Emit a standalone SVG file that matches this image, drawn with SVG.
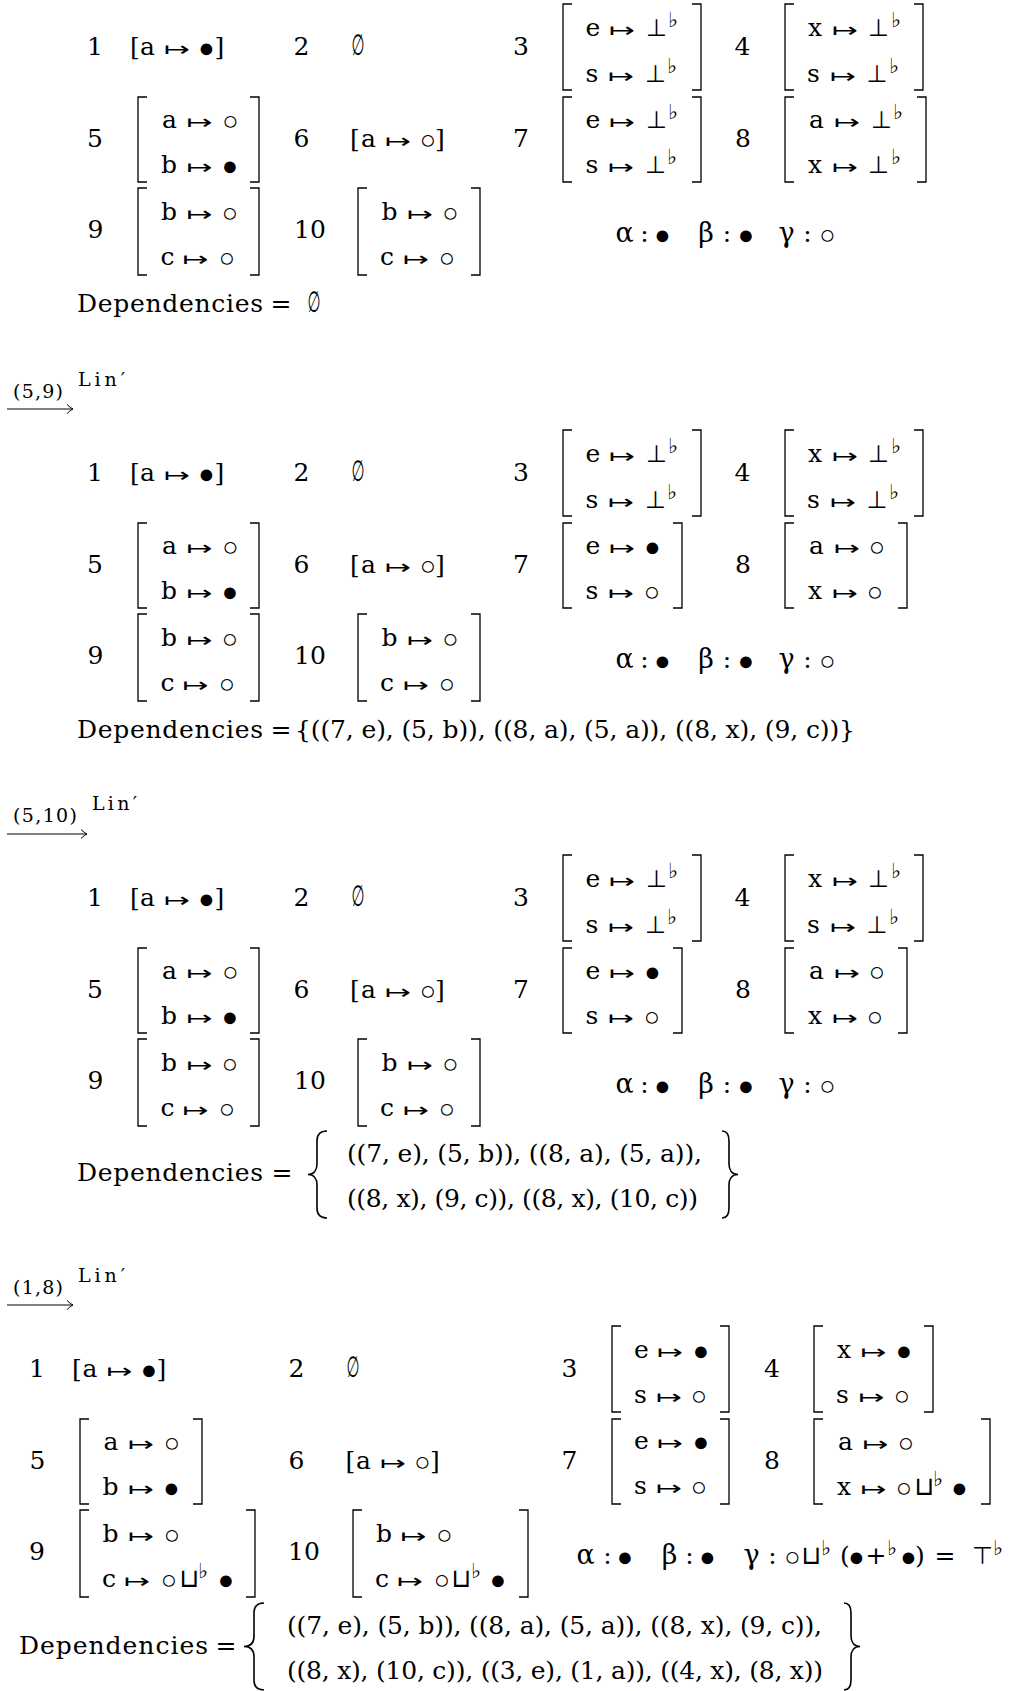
<svg xmlns="http://www.w3.org/2000/svg" width="1010" height="1691" viewBox="0 0 1010 1691">
<style>
text{fill:#000}
.t{font-family:"DejaVu Serif",serif;font-size:25px}
.c{text-anchor:middle}
.g{font-size:27px}
.mt{font-family:"DejaVu Sans",sans-serif;font-size:20px;text-anchor:middle;transform:translateY(-1.5px)}
.d{font-family:"Liberation Serif","DejaVu Sans",serif;font-size:27px;text-anchor:middle;transform:translateY(1.5px)}
.op{font-family:"DejaVu Sans",sans-serif;font-size:24px;text-anchor:middle}
.cup{font-family:"DejaVu Sans",sans-serif;font-size:26px;text-anchor:middle}
.fl{font-family:"DejaVu Sans",sans-serif;font-size:21px}
.es{font-family:"DejaVu Sans",sans-serif;font-size:29px;text-anchor:middle}
.lb{font-family:"DejaVu Serif",serif;font-size:19px}
.br{fill:none;stroke:#000;stroke-width:1.3}
.bc{fill:none;stroke:#000;stroke-width:1.6}
.ar{fill:none;stroke:#000;stroke-width:1}
</style>
<rect width="1010" height="1691" fill="#fff"/>

<!-- ===== State 1 ===== -->
<g id="state1">
 <g id="s1-c1"><text class="t c" x="95" y="55">1</text><text class="t c" x="135" y="55">[</text><text class="t c" x="147.5" y="55">a</text><text class="mt" x="177" y="57" textLength="26" lengthAdjust="spacingAndGlyphs">↦</text><text class="d" x="206.5" y="55">●</text><text class="t c" x="219.5" y="55">]</text></g>
 <g id="s1-c2"><text class="t c" x="301.5" y="55">2</text><text class="es" x="358" y="55" textLength="13" lengthAdjust="spacingAndGlyphs">∅</text></g>
 <g id="s1-c3"><text class="t c" x="521" y="55">3</text><path class="br" d="M572,4H563V90H572M692,4H701V90H692"/>
  <text class="t c" x="593" y="36">e</text><text class="mt" x="622" y="38" textLength="26" lengthAdjust="spacingAndGlyphs">↦</text><text class="op" x="656.5" y="36">⊥</text><text class="fl" x="668" y="27">♭</text>
  <text class="t c" x="592" y="82">s</text><text class="mt" x="621" y="84" textLength="26" lengthAdjust="spacingAndGlyphs">↦</text><text class="op" x="655.5" y="82">⊥</text><text class="fl" x="667" y="73">♭</text></g>
 <g id="s1-c4"><text class="t c" x="742.5" y="55">4</text><path class="br" d="M794,4H785V90H794M914,4H923V90H914"/>
  <text class="t c" x="815" y="36">x</text><text class="mt" x="845" y="38" textLength="26" lengthAdjust="spacingAndGlyphs">↦</text><text class="op" x="878.5" y="36">⊥</text><text class="fl" x="891" y="27">♭</text>
  <text class="t c" x="813.5" y="82">s</text><text class="mt" x="843" y="84" textLength="26" lengthAdjust="spacingAndGlyphs">↦</text><text class="op" x="877" y="82">⊥</text><text class="fl" x="889" y="73">♭</text></g>
 <g id="s1-c5"><text class="t c" x="95" y="147">5</text><path class="br" d="M147,97H138V182H147M250,97H259V182H250"/>
  <text class="t c" x="169.5" y="128">a</text><text class="mt" x="199.5" y="130" textLength="26" lengthAdjust="spacingAndGlyphs">↦</text><text class="d" x="230.5" y="128">○</text>
  <text class="t c" x="169" y="173">b</text><text class="mt" x="199.5" y="175" textLength="26" lengthAdjust="spacingAndGlyphs">↦</text><text class="d" x="230" y="173">●</text></g>
 <g id="s1-c6"><text class="t c" x="301.5" y="147">6</text><text class="t c" x="355" y="147">[</text><text class="t c" x="368.5" y="147">a</text><text class="mt" x="398" y="149" textLength="26" lengthAdjust="spacingAndGlyphs">↦</text><text class="d" x="428" y="147">○</text><text class="t c" x="440" y="147">]</text></g>
 <g id="s1-c7"><text class="t c" x="521" y="147">7</text><path class="br" d="M572,97H563V182H572M692,97H701V182H692"/>
  <text class="t c" x="593" y="128">e</text><text class="mt" x="622" y="130" textLength="26" lengthAdjust="spacingAndGlyphs">↦</text><text class="op" x="656.5" y="128">⊥</text><text class="fl" x="668" y="119">♭</text>
  <text class="t c" x="592" y="173">s</text><text class="mt" x="621" y="175" textLength="26" lengthAdjust="spacingAndGlyphs">↦</text><text class="op" x="655.5" y="173">⊥</text><text class="fl" x="667" y="164">♭</text></g>
 <g id="s1-c8"><text class="t c" x="743" y="147">8</text><path class="br" d="M794,97H785V182H794M917,97H926V182H917"/>
  <text class="t c" x="816.5" y="128">a</text><text class="mt" x="847" y="130" textLength="26" lengthAdjust="spacingAndGlyphs">↦</text><text class="op" x="881.5" y="128">⊥</text><text class="fl" x="893" y="119">♭</text>
  <text class="t c" x="815" y="173">x</text><text class="mt" x="845" y="175" textLength="26" lengthAdjust="spacingAndGlyphs">↦</text><text class="op" x="878.5" y="173">⊥</text><text class="fl" x="891" y="164">♭</text></g>
 <g id="s1-c9"><text class="t c" x="95.5" y="238">9</text><path class="br" d="M147,188H138V275H147M250,188H259V275H250"/>
  <text class="t c" x="169" y="220">b</text><text class="mt" x="199.5" y="222" textLength="26" lengthAdjust="spacingAndGlyphs">↦</text><text class="d" x="230" y="220">○</text>
  <text class="t c" x="167.5" y="265">c</text><text class="mt" x="195.5" y="267" textLength="26" lengthAdjust="spacingAndGlyphs">↦</text><text class="d" x="227" y="265">○</text></g>
 <g id="s1-c10"><text class="t c" x="310" y="238">10</text><path class="br" d="M367,188H358V275H367M471,188H480V275H471"/>
  <text class="t c" x="389.5" y="220">b</text><text class="mt" x="420" y="222" textLength="26" lengthAdjust="spacingAndGlyphs">↦</text><text class="d" x="450.5" y="220">○</text>
  <text class="t c" x="387" y="265">c</text><text class="mt" x="416" y="267" textLength="26" lengthAdjust="spacingAndGlyphs">↦</text><text class="d" x="447" y="265">○</text></g>
 <g id="s1-vars"><text class="t c g" x="624.5" y="242">α</text><text class="t c" x="644.5" y="242">:</text><text class="d" x="662.5" y="242">●</text><text class="t c g" x="706" y="242">β</text><text class="t c" x="727" y="242">:</text><text class="d" x="746" y="242">●</text><text class="t c g" x="786.5" y="242">γ</text><text class="t c" x="807.5" y="242">:</text><text class="d" x="827.5" y="242">○</text></g>
 <g id="s1-deps"><text class="t" x="77" y="312" textLength="186" lengthAdjust="spacing">Dependencies</text><text class="t c" x="281" y="312">=</text><text class="es" x="314" y="312" textLength="13" lengthAdjust="spacingAndGlyphs">∅</text></g>
</g>

<!-- ===== State 2 ===== -->
<g id="state2" transform="translate(0,426)">
 <g id="s2-c1"><text class="t c" x="95" y="55">1</text><text class="t c" x="135" y="55">[</text><text class="t c" x="147.5" y="55">a</text><text class="mt" x="177" y="57" textLength="26" lengthAdjust="spacingAndGlyphs">↦</text><text class="d" x="206.5" y="55">●</text><text class="t c" x="219.5" y="55">]</text></g>
 <g id="s2-c2"><text class="t c" x="301.5" y="55">2</text><text class="es" x="358" y="55" textLength="13" lengthAdjust="spacingAndGlyphs">∅</text></g>
 <g id="s2-c3"><text class="t c" x="521" y="55">3</text><path class="br" d="M572,4H563V90H572M692,4H701V90H692"/>
  <text class="t c" x="593" y="36">e</text><text class="mt" x="622" y="38" textLength="26" lengthAdjust="spacingAndGlyphs">↦</text><text class="op" x="656.5" y="36">⊥</text><text class="fl" x="668" y="27">♭</text>
  <text class="t c" x="592" y="82">s</text><text class="mt" x="621" y="84" textLength="26" lengthAdjust="spacingAndGlyphs">↦</text><text class="op" x="655.5" y="82">⊥</text><text class="fl" x="667" y="73">♭</text></g>
 <g id="s2-c4"><text class="t c" x="742.5" y="55">4</text><path class="br" d="M794,4H785V90H794M914,4H923V90H914"/>
  <text class="t c" x="815" y="36">x</text><text class="mt" x="845" y="38" textLength="26" lengthAdjust="spacingAndGlyphs">↦</text><text class="op" x="878.5" y="36">⊥</text><text class="fl" x="891" y="27">♭</text>
  <text class="t c" x="813.5" y="82">s</text><text class="mt" x="843" y="84" textLength="26" lengthAdjust="spacingAndGlyphs">↦</text><text class="op" x="877" y="82">⊥</text><text class="fl" x="889" y="73">♭</text></g>
 <g id="s2-c5"><text class="t c" x="95" y="147">5</text><path class="br" d="M147,97H138V182H147M250,97H259V182H250"/>
  <text class="t c" x="169.5" y="128">a</text><text class="mt" x="199.5" y="130" textLength="26" lengthAdjust="spacingAndGlyphs">↦</text><text class="d" x="230.5" y="128">○</text>
  <text class="t c" x="169" y="173">b</text><text class="mt" x="199.5" y="175" textLength="26" lengthAdjust="spacingAndGlyphs">↦</text><text class="d" x="230" y="173">●</text></g>
 <g id="s2-c6"><text class="t c" x="301.5" y="147">6</text><text class="t c" x="355" y="147">[</text><text class="t c" x="368.5" y="147">a</text><text class="mt" x="398" y="149" textLength="26" lengthAdjust="spacingAndGlyphs">↦</text><text class="d" x="428" y="147">○</text><text class="t c" x="440" y="147">]</text></g>
 <g id="s2-c7"><text class="t c" x="521" y="147">7</text><path class="br" d="M572,97H563V182H572M673,97H682V182H673"/>
  <text class="t c" x="593" y="128">e</text><text class="mt" x="622" y="130" textLength="26" lengthAdjust="spacingAndGlyphs">↦</text><text class="d" x="652.5" y="128">●</text>
  <text class="t c" x="592" y="173">s</text><text class="mt" x="621" y="175" textLength="26" lengthAdjust="spacingAndGlyphs">↦</text><text class="d" x="652" y="173">○</text></g>
 <g id="s2-c8"><text class="t c" x="743" y="147">8</text><path class="br" d="M794,97H785V182H794M898,97H907V182H898"/>
  <text class="t c" x="816.5" y="128">a</text><text class="mt" x="847" y="130" textLength="26" lengthAdjust="spacingAndGlyphs">↦</text><text class="d" x="877" y="128">○</text>
  <text class="t c" x="815" y="173">x</text><text class="mt" x="845" y="175" textLength="26" lengthAdjust="spacingAndGlyphs">↦</text><text class="d" x="875" y="173">○</text></g>
 <g id="s2-c9"><text class="t c" x="95.5" y="238">9</text><path class="br" d="M147,188H138V275H147M250,188H259V275H250"/>
  <text class="t c" x="169" y="220">b</text><text class="mt" x="199.5" y="222" textLength="26" lengthAdjust="spacingAndGlyphs">↦</text><text class="d" x="230" y="220">○</text>
  <text class="t c" x="167.5" y="265">c</text><text class="mt" x="195.5" y="267" textLength="26" lengthAdjust="spacingAndGlyphs">↦</text><text class="d" x="227" y="265">○</text></g>
 <g id="s2-c10"><text class="t c" x="310" y="238">10</text><path class="br" d="M367,188H358V275H367M471,188H480V275H471"/>
  <text class="t c" x="389.5" y="220">b</text><text class="mt" x="420" y="222" textLength="26" lengthAdjust="spacingAndGlyphs">↦</text><text class="d" x="450.5" y="220">○</text>
  <text class="t c" x="387" y="265">c</text><text class="mt" x="416" y="267" textLength="26" lengthAdjust="spacingAndGlyphs">↦</text><text class="d" x="447" y="265">○</text></g>
 <g id="s2-vars"><text class="t c g" x="624.5" y="242">α</text><text class="t c" x="644.5" y="242">:</text><text class="d" x="662.5" y="242">●</text><text class="t c g" x="706" y="242">β</text><text class="t c" x="727" y="242">:</text><text class="d" x="746" y="242">●</text><text class="t c g" x="786.5" y="242">γ</text><text class="t c" x="807.5" y="242">:</text><text class="d" x="827.5" y="242">○</text></g>
 <g id="s2-deps"><text class="t" x="77" y="312" textLength="186" lengthAdjust="spacing">Dependencies</text><text class="t c" x="281" y="312">=</text><text class="t" x="295" y="312" textLength="560" lengthAdjust="spacing">{((7, e), (5, b)), ((8, a), (5, a)), ((8, x), (9, c))}</text></g>
</g>

<!-- ===== State 3 ===== -->
<g id="state3" transform="translate(0,851)">
 <g id="s3-c1"><text class="t c" x="95" y="55">1</text><text class="t c" x="135" y="55">[</text><text class="t c" x="147.5" y="55">a</text><text class="mt" x="177" y="57" textLength="26" lengthAdjust="spacingAndGlyphs">↦</text><text class="d" x="206.5" y="55">●</text><text class="t c" x="219.5" y="55">]</text></g>
 <g id="s3-c2"><text class="t c" x="301.5" y="55">2</text><text class="es" x="358" y="55" textLength="13" lengthAdjust="spacingAndGlyphs">∅</text></g>
 <g id="s3-c3"><text class="t c" x="521" y="55">3</text><path class="br" d="M572,4H563V90H572M692,4H701V90H692"/>
  <text class="t c" x="593" y="36">e</text><text class="mt" x="622" y="38" textLength="26" lengthAdjust="spacingAndGlyphs">↦</text><text class="op" x="656.5" y="36">⊥</text><text class="fl" x="668" y="27">♭</text>
  <text class="t c" x="592" y="82">s</text><text class="mt" x="621" y="84" textLength="26" lengthAdjust="spacingAndGlyphs">↦</text><text class="op" x="655.5" y="82">⊥</text><text class="fl" x="667" y="73">♭</text></g>
 <g id="s3-c4"><text class="t c" x="742.5" y="55">4</text><path class="br" d="M794,4H785V90H794M914,4H923V90H914"/>
  <text class="t c" x="815" y="36">x</text><text class="mt" x="845" y="38" textLength="26" lengthAdjust="spacingAndGlyphs">↦</text><text class="op" x="878.5" y="36">⊥</text><text class="fl" x="891" y="27">♭</text>
  <text class="t c" x="813.5" y="82">s</text><text class="mt" x="843" y="84" textLength="26" lengthAdjust="spacingAndGlyphs">↦</text><text class="op" x="877" y="82">⊥</text><text class="fl" x="889" y="73">♭</text></g>
 <g id="s3-c5"><text class="t c" x="95" y="147">5</text><path class="br" d="M147,97H138V182H147M250,97H259V182H250"/>
  <text class="t c" x="169.5" y="128">a</text><text class="mt" x="199.5" y="130" textLength="26" lengthAdjust="spacingAndGlyphs">↦</text><text class="d" x="230.5" y="128">○</text>
  <text class="t c" x="169" y="173">b</text><text class="mt" x="199.5" y="175" textLength="26" lengthAdjust="spacingAndGlyphs">↦</text><text class="d" x="230" y="173">●</text></g>
 <g id="s3-c6"><text class="t c" x="301.5" y="147">6</text><text class="t c" x="355" y="147">[</text><text class="t c" x="368.5" y="147">a</text><text class="mt" x="398" y="149" textLength="26" lengthAdjust="spacingAndGlyphs">↦</text><text class="d" x="428" y="147">○</text><text class="t c" x="440" y="147">]</text></g>
 <g id="s3-c7"><text class="t c" x="521" y="147">7</text><path class="br" d="M572,97H563V182H572M673,97H682V182H673"/>
  <text class="t c" x="593" y="128">e</text><text class="mt" x="622" y="130" textLength="26" lengthAdjust="spacingAndGlyphs">↦</text><text class="d" x="652.5" y="128">●</text>
  <text class="t c" x="592" y="173">s</text><text class="mt" x="621" y="175" textLength="26" lengthAdjust="spacingAndGlyphs">↦</text><text class="d" x="652" y="173">○</text></g>
 <g id="s3-c8"><text class="t c" x="743" y="147">8</text><path class="br" d="M794,97H785V182H794M898,97H907V182H898"/>
  <text class="t c" x="816.5" y="128">a</text><text class="mt" x="847" y="130" textLength="26" lengthAdjust="spacingAndGlyphs">↦</text><text class="d" x="877" y="128">○</text>
  <text class="t c" x="815" y="173">x</text><text class="mt" x="845" y="175" textLength="26" lengthAdjust="spacingAndGlyphs">↦</text><text class="d" x="875" y="173">○</text></g>
 <g id="s3-c9"><text class="t c" x="95.5" y="238">9</text><path class="br" d="M147,188H138V275H147M250,188H259V275H250"/>
  <text class="t c" x="169" y="220">b</text><text class="mt" x="199.5" y="222" textLength="26" lengthAdjust="spacingAndGlyphs">↦</text><text class="d" x="230" y="220">○</text>
  <text class="t c" x="167.5" y="265">c</text><text class="mt" x="195.5" y="267" textLength="26" lengthAdjust="spacingAndGlyphs">↦</text><text class="d" x="227" y="265">○</text></g>
 <g id="s3-c10"><text class="t c" x="310" y="238">10</text><path class="br" d="M367,188H358V275H367M471,188H480V275H471"/>
  <text class="t c" x="389.5" y="220">b</text><text class="mt" x="420" y="222" textLength="26" lengthAdjust="spacingAndGlyphs">↦</text><text class="d" x="450.5" y="220">○</text>
  <text class="t c" x="387" y="265">c</text><text class="mt" x="416" y="267" textLength="26" lengthAdjust="spacingAndGlyphs">↦</text><text class="d" x="447" y="265">○</text></g>
 <g id="s3-vars"><text class="t c g" x="624.5" y="242">α</text><text class="t c" x="644.5" y="242">:</text><text class="d" x="662.5" y="242">●</text><text class="t c g" x="706" y="242">β</text><text class="t c" x="727" y="242">:</text><text class="d" x="746" y="242">●</text><text class="t c g" x="786.5" y="242">γ</text><text class="t c" x="807.5" y="242">:</text><text class="d" x="827.5" y="242">○</text></g>
 <g id="s3-deps"><text class="t" x="77" y="330" textLength="186" lengthAdjust="spacing">Dependencies</text><text class="t c" x="282" y="330">=</text>
  <path class="bc" d="M327,280C320,280 317,283 317,290V313C317,319 314,323.5 308,323.5C314,323.5 317,328 317,334V357C317,364 320,367 327,367"/>
  <text class="t" x="347" y="311" textLength="355" lengthAdjust="spacing">((7, e), (5, b)), ((8, a), (5, a)),</text>
  <text class="t" x="347" y="356" textLength="351" lengthAdjust="spacing">((8, x), (9, c)), ((8, x), (10, c))</text>
  <path class="bc" d="M722,280C727,280 729,283 729,290V313C729,319 732,323.5 738,323.5C732,323.5 729,328 729,334V357C729,364 727,367 722,367"/></g>
</g>

<!-- ===== State 4 ===== -->
<g id="state4" transform="translate(0,1322)">
 <g id="s4-c1"><text class="t c" x="37" y="55">1</text><text class="t c" x="77" y="55">[</text><text class="t c" x="90" y="55">a</text><text class="mt" x="119.5" y="57" textLength="26" lengthAdjust="spacingAndGlyphs">↦</text><text class="d" x="149" y="55">●</text><text class="t c" x="161.5" y="55">]</text></g>
 <g id="s4-c2"><text class="t c" x="296.5" y="55">2</text><text class="es" x="353" y="55" textLength="13" lengthAdjust="spacingAndGlyphs">∅</text></g>
 <g id="s4-c3"><text class="t c" x="569.5" y="55">3</text><path class="br" d="M621,4H612V90H621M720,4H729V90H720"/>
  <text class="t c" x="641.5" y="36">e</text><text class="mt" x="670" y="38" textLength="26" lengthAdjust="spacingAndGlyphs">↦</text><text class="d" x="701" y="36">●</text>
  <text class="t c" x="640.5" y="81">s</text><text class="mt" x="669" y="83" textLength="26" lengthAdjust="spacingAndGlyphs">↦</text><text class="d" x="699" y="81">○</text></g>
 <g id="s4-c4"><text class="t c" x="772" y="55">4</text><path class="br" d="M823,4H814V90H823M924,4H933V90H924"/>
  <text class="t c" x="844" y="36">x</text><text class="mt" x="873.5" y="38" textLength="26" lengthAdjust="spacingAndGlyphs">↦</text><text class="d" x="904" y="36">●</text>
  <text class="t c" x="842.5" y="81">s</text><text class="mt" x="871.5" y="83" textLength="26" lengthAdjust="spacingAndGlyphs">↦</text><text class="d" x="902" y="81">○</text></g>
 <g id="s4-c5"><text class="t c" x="37.5" y="147">5</text><path class="br" d="M89,97H80V182H89M193,97H202V182H193"/>
  <text class="t c" x="111" y="128">a</text><text class="mt" x="141" y="130" textLength="26" lengthAdjust="spacingAndGlyphs">↦</text><text class="d" x="172" y="128">○</text>
  <text class="t c" x="110.5" y="173">b</text><text class="mt" x="141" y="175" textLength="26" lengthAdjust="spacingAndGlyphs">↦</text><text class="d" x="171.5" y="173">●</text></g>
 <g id="s4-c6"><text class="t c" x="296.5" y="147">6</text><text class="t c" x="350.5" y="147">[</text><text class="t c" x="363.5" y="147">a</text><text class="mt" x="393" y="149" textLength="26" lengthAdjust="spacingAndGlyphs">↦</text><text class="d" x="422.5" y="147">○</text><text class="t c" x="435" y="147">]</text></g>
 <g id="s4-c7"><text class="t c" x="569.5" y="147">7</text><path class="br" d="M621,97H612V182H621M720,97H729V182H720"/>
  <text class="t c" x="641.5" y="127">e</text><text class="mt" x="670" y="129" textLength="26" lengthAdjust="spacingAndGlyphs">↦</text><text class="d" x="701" y="127">●</text>
  <text class="t c" x="640.5" y="172">s</text><text class="mt" x="669" y="174" textLength="26" lengthAdjust="spacingAndGlyphs">↦</text><text class="d" x="699" y="172">○</text></g>
 <g id="s4-c8"><text class="t c" x="772" y="147">8</text><path class="br" d="M823,97H814V182H823M981,97H990V182H981"/>
  <text class="t c" x="845.5" y="128">a</text><text class="mt" x="875.5" y="130" textLength="26" lengthAdjust="spacingAndGlyphs">↦</text><text class="d" x="906" y="128">○</text>
  <text class="t c" x="844" y="173">x</text><text class="mt" x="873.5" y="175" textLength="26" lengthAdjust="spacingAndGlyphs">↦</text><text class="d" x="904" y="173">○</text><text class="cup" x="924.5" y="173">⊔</text><text class="fl" x="933" y="164">♭</text><text class="d" x="959.5" y="173">●</text></g>
 <g id="s4-c9"><text class="t c" x="37" y="238">9</text><path class="br" d="M89,188H80V275H89M246,188H255V275H246"/>
  <text class="t c" x="110.5" y="220">b</text><text class="mt" x="141" y="222" textLength="26" lengthAdjust="spacingAndGlyphs">↦</text><text class="d" x="172" y="220">○</text>
  <text class="t c" x="109" y="265">c</text><text class="mt" x="137" y="267" textLength="26" lengthAdjust="spacingAndGlyphs">↦</text><text class="d" x="169" y="265">○</text><text class="cup" x="189.5" y="265">⊔</text><text class="fl" x="198" y="256">♭</text><text class="d" x="226" y="265">●</text></g>
 <g id="s4-c10"><text class="t c" x="304" y="238">10</text><path class="br" d="M362,188H353V275H362M519,188H528V275H519"/>
  <text class="t c" x="384" y="220">b</text><text class="mt" x="413.5" y="222" textLength="26" lengthAdjust="spacingAndGlyphs">↦</text><text class="d" x="444.5" y="220">○</text>
  <text class="t c" x="382" y="265">c</text><text class="mt" x="410" y="267" textLength="26" lengthAdjust="spacingAndGlyphs">↦</text><text class="d" x="442" y="265">○</text><text class="cup" x="461.5" y="265">⊔</text><text class="fl" x="471" y="256">♭</text><text class="d" x="498" y="265">●</text></g>
 <g id="s4-vars"><text class="t c g" x="585.5" y="242">α</text><text class="t c" x="607.5" y="242">:</text><text class="d" x="625" y="242">●</text><text class="t c g" x="669.5" y="242">β</text><text class="t c" x="689.5" y="242">:</text><text class="d" x="707.5" y="242">●</text><text class="t c g" x="751.5" y="242">γ</text><text class="t c" x="772.5" y="242">:</text><text class="d" x="792.5" y="242">○</text><text class="cup" x="811.5" y="242">⊔</text><text class="fl" x="821" y="233">♭</text><text class="t c" x="845" y="242">(</text><text class="d" x="856.5" y="242">●</text><text class="t c" x="876" y="242">+</text><text class="fl" x="887" y="233">♭</text><text class="d" x="908.5" y="242">●</text><text class="t c" x="920" y="242">)</text><text class="t c" x="945" y="242">=</text><text class="op" x="982.5" y="242">⊤</text><text class="fl" x="993" y="233">♭</text></g>
 <g id="s4-deps"><text class="t" x="19" y="332" textLength="189" lengthAdjust="spacing">Dependencies</text><text class="t c" x="226" y="332">=</text>
  <path class="bc" d="M264,281C257,281 254,284 254,291V314C254,320 251,324.5 244,324.5C251,324.5 254,329 254,335V358C254,365 257,368 264,368"/>
  <text class="t" x="287" y="312" textLength="535" lengthAdjust="spacing">((7, e), (5, b)), ((8, a), (5, a)), ((8, x), (9, c)),</text>
  <text class="t" x="287" y="357" textLength="536" lengthAdjust="spacing">((8, x), (10, c)), ((3, e), (1, a)), ((4, x), (8, x))</text>
  <path class="bc" d="M844,281C849,281 851,284 851,291V314C851,320 854,324.5 860,324.5C854,324.5 851,329 851,335V358C851,365 849,368 844,368"/></g>
</g>

<!-- ===== Transitions ===== -->
<g id="connectors">
 <g id="t1"><path class="ar" d="M7,409H73M67,404.5Q70.5,408 73,409Q70.5,410 67,413.5"/><text class="lb" x="13" y="398" textLength="50" lengthAdjust="spacing">(5,9)</text><text class="lb" x="78" y="386" textLength="47" lengthAdjust="spacing">Lin′</text></g>
 <g id="t2"><path class="ar" d="M7,834H87M81,829.5Q84.5,833 87,834Q84.5,835 81,838.5"/><text class="lb" x="13" y="822" textLength="64" lengthAdjust="spacing">(5,10)</text><text class="lb" x="92" y="810" textLength="45" lengthAdjust="spacing">Lin′</text></g>
 <g id="t3"><path class="ar" d="M7,1305H73M67,1300.5Q70.5,1304 73,1305Q70.5,1306 67,1309.5"/><text class="lb" x="13" y="1294" textLength="50" lengthAdjust="spacing">(1,8)</text><text class="lb" x="78" y="1282" textLength="47" lengthAdjust="spacing">Lin′</text></g>
</g>
</svg>
